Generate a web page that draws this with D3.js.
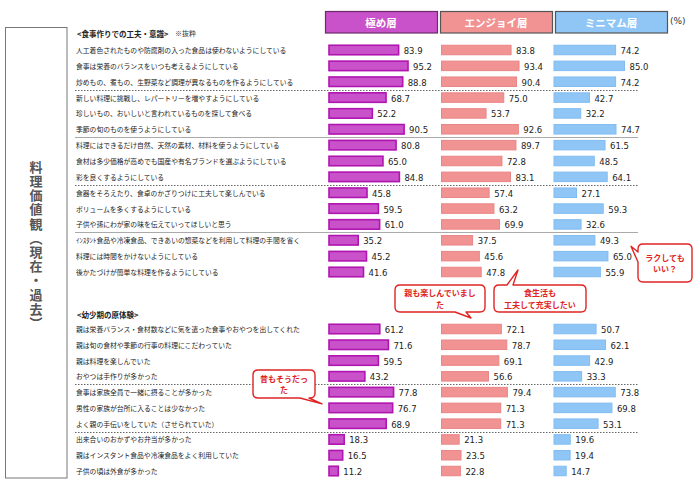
<!DOCTYPE html>
<html><head><meta charset="utf-8">
<script src="https://cdn.jsdelivr.net/npm/d3@7"></script>
<style>
html,body{margin:0;padding:0;background:#fff;}
svg{display:block;}
text{font-family:"Noto Sans CJK JP","Noto Sans",sans-serif;}
</style></head>
<body>
<svg id="chart" width="700" height="482"></svg>
<script>
// ---- data ----
const seriesNames = ["極め層", "エンジョイ層", "ミニマム層"];
const sectionTitles = ["<食事作りでの工夫・意識>", "<幼少期の原体験>"];
const sectionNote = "※抜粋";
const unitLabel = "(%)";
const sideTitle = "料理価値観（現在・過去）";

const foodLabels = [
  "人工着色されたものや防腐剤の入った食品は使わないようにしている",
  "食事は栄養のバランスをいつも考えるようにしている",
  "炒めもの、煮もの、生野菜など調理が異なるものを作るようにしている",
  "新しい料理に挑戦し、レパートリーを増やすようにしている",
  "珍しいもの、おいしいと言われているものを探して食べる",
  "季節の旬のものを使うようにしている",
  "料理にはできるだけ自然、天然の素材、材料を使うようにしている",
  "食材は多少価格が高めでも国産や有名ブランドを選ぶようにしている",
  "彩を良くするようにしている",
  "食器をそろえたり、食卓のかざりつけに工夫して楽しんでいる",
  "ボリュームを多くするようにしている",
  "子供や孫にわが家の味を伝えていってほしいと思う",
  "ｲﾝｽﾀﾝﾄ食品や冷凍食品、できあいの惣菜などを利用して料理の手間を省く",
  "料理には時間をかけないようにしている",
  "後かたづけが簡単な料理を作るようにしている"
];
const foodKiwame  = [83.9, 95.2, 88.8, 68.7, 52.2, 90.5, 80.8, 65.0, 84.8, 45.8, 59.5, 61.0, 35.2, 45.2, 41.6];
const foodEnjoy   = [83.8, 93.4, 90.4, 75.0, 53.7, 92.6, 89.7, 72.8, 83.1, 57.4, 63.2, 69.9, 37.5, 45.6, 47.8];
const foodMinimum = [74.2, 85.0, 74.2, 42.7, 32.2, 74.7, 61.5, 48.5, 64.1, 27.1, 59.3, 32.6, 49.3, 65.0, 55.9];
const foodBreaks = [{after: 2, dotted: true}, {after: 5, dotted: false}, {after: 8, dotted: true}, {after: 11, dotted: false}];

const childLabels = [
  "親は栄養バランス・食材数などに気を遣った食事やおやつを出してくれた",
  "親は旬の食材や季節の行事の料理にこだわっていた",
  "親は料理を楽しんでいた",
  "おやつは手作りが多かった",
  "食事は家族全員で一緒に摂ることが多かった",
  "男性の家族が台所に入ることは少なかった",
  "よく親の手伝いをしていた（させられていた）",
  "出来合いのおかずやお弁当が多かった",
  "親はインスタント食品や冷凍食品をよく利用していた",
  "子供の頃は外食が多かった"
];
const childKiwame  = [61.2, 71.6, 59.5, 43.2, 77.8, 76.7, 68.9, 18.3, 16.5, 11.2];
const childEnjoy   = [72.1, 78.7, 69.1, 56.6, 79.4, 71.3, 71.3, 21.3, 23.5, 22.8];
const childMinimum = [50.7, 62.1, 42.9, 33.3, 73.8, 69.8, 53.1, 19.6, 19.4, 14.7];
const childBreaks = [{after: 3, dotted: true}, {after: 6, dotted: true}];

const callouts = [
  {lines: ["ラクしても", "いい？"]},
  {lines: ["親も楽しんでいまし", "た"]},
  {lines: ["食生活も", "工夫して充実したい"]},
  {lines: ["昔もそうだっ", "た"]}
];

// ---- layout ----
const svg = d3.select("#chart");
const fills   = ["#c951c9", "#f19393", "#90c6f5"];
const strokes = ["#b015b0", "#ea8585", "#80bcf1"];
const panelX0 = [329, 441.5, 554];
const barMax = 83;
const xScales = panelX0.map(x0 => d3.scaleLinear().domain([0, 100]).range([x0, x0 + barMax]));
const barH = 9.5;
const labelX = 76;
const lineX1 = 75, lineX2 = 638;

// left box + vertical title
svg.append("rect").attr("x", 5.5).attr("y", 27.5).attr("width", 61.5).attr("height", 450.5)
  .attr("fill", "none").attr("stroke", "#777").attr("stroke-width", 1);
svg.append("text").attr("x", 36).attr("y", 245.5)
  .style("writing-mode", "vertical-rl")
  .attr("text-anchor", "middle")
  .attr("font-size", 13).attr("font-weight", "bold").attr("fill", "#555")
  .attr("letter-spacing", 1.2)
  .text(sideTitle);

// header boxes
const headerW = 112;
const hdr = svg.append("g");
seriesNames.forEach((name, i) => {
  const x = [325, 440, 555][i];
  hdr.append("rect").attr("x", x + 0.5).attr("y", 11.5).attr("width", headerW).attr("height", 21.5)
    .attr("fill", fills[i]).attr("stroke", i === 0 ? "#6b2a6b" : "#555").attr("stroke-width", 1.2);
  hdr.append("text").attr("x", x + headerW / 2).attr("y", 22.5)
    .attr("text-anchor", "middle").attr("dominant-baseline", "central")
    .attr("font-size", 10.5).attr("font-weight", "bold").attr("fill", "#fff").text(name);
});
svg.append("text").attr("x", 670).attr("y", 21).attr("dominant-baseline", "central")
  .attr("font-size", 9).attr("fill", "#333")
  .style("font-family", "'DejaVu Sans',sans-serif").text(unitLabel);

function drawSection(labels, seriesVals, breaks, y0, y1, title, titleYpos, note) {
  const y = d3.scaleLinear().domain([0, labels.length - 1]).range([y0, y1]);
  const g = svg.append("g");
  g.append("text").attr("x", labelX + 1).attr("y", titleYpos).attr("dominant-baseline", "central")
    .attr("font-size", 7.5).attr("font-weight", "bold").attr("fill", "#222").text(title);
  if (note) {
    g.append("text").attr("x", 175).attr("y", titleYpos).attr("dominant-baseline", "central")
      .attr("font-size", 7).attr("fill", "#333").text(note);
  }
  g.selectAll("text.lbl").data(labels).join("text").attr("class", "lbl")
    .attr("x", labelX).attr("y", (d, i) => y(i)).attr("dominant-baseline", "central")
    .attr("font-size", 6.8).attr("fill", "#222").text(d => d);
  const step = (y1 - y0) / (labels.length - 1);
  breaks.forEach(b => {
    const ly = Math.round(y(b.after) + step / 2) + 0.5;
    g.append("line").attr("x1", lineX1).attr("x2", lineX2).attr("y1", ly).attr("y2", ly)
      .attr("stroke", b.dotted ? "#666" : "#aaa").attr("stroke-width", 1)
      .attr("stroke-dasharray", b.dotted ? "1.5,1.5" : null);
  });
  seriesVals.forEach((vals, s) => {
    const xs = xScales[s];
    g.selectAll("rect.b" + s).data(vals).join("rect").attr("class", "b" + s)
      .attr("x", xs(0)).attr("y", (d, i) => y(i) - barH / 2)
      .attr("width", d => xs(d) - xs(0)).attr("height", barH)
      .attr("fill", fills[s]).attr("stroke", strokes[s]).attr("stroke-width", s === 0 ? 1.6 : 1);
    g.selectAll("text.v" + s).data(vals).join("text").attr("class", "v" + s)
      .attr("x", d => xs(d) + 5).attr("y", (d, i) => y(i) + 1).attr("dominant-baseline", "central")
      .attr("font-size", 8.5).attr("fill", "#222")
      .style("font-family", "'DejaVu Sans',sans-serif")
      .text(d => d.toFixed(1));
  });
  return y;
}

const yFood = drawSection(foodLabels, [foodKiwame, foodEnjoy, foodMinimum], foodBreaks, 50, 272,
  sectionTitles[0], 33, sectionNote);
const yChild = drawSection(childLabels, [childKiwame, childEnjoy, childMinimum], childBreaks, 329, 471,
  sectionTitles[1], 314, null);

// callouts (speech bubbles)
function bubble(x, yTop, w, h, tail, lines) {
  const r = 5, red = "#e02424";
  const x2 = x + w, y2 = yTop + h;
  let p = `M${x + r},${yTop}`;
  if (tail.side === "top") p += `L${tail.a},${yTop}L${tail.tx},${tail.ty}L${tail.b},${yTop}`;
  p += `L${x2 - r},${yTop}Q${x2},${yTop} ${x2},${yTop + r}`;
  p += `L${x2},${y2 - r}Q${x2},${y2} ${x2 - r},${y2}`;
  if (tail.side === "bottom") p += `L${tail.b},${y2}L${tail.tx},${tail.ty}L${tail.a},${y2}`;
  p += `L${x + r},${y2}Q${x},${y2} ${x},${y2 - r}`;
  if (tail.side === "left") p += `L${x},${tail.b}L${tail.tx},${tail.ty}L${x},${tail.a}`;
  p += `L${x},${yTop + r}Q${x},${yTop} ${x + r},${yTop}Z`;
  const g = svg.append("g");
  g.append("path").attr("d", p).attr("fill", "#fff").attr("stroke", red).attr("stroke-width", 1.4)
    .attr("stroke-linejoin", "round");
  const lh = 11.5;
  const cy = yTop + h / 2 - (lines.length - 1) * lh / 2;
  g.selectAll("text").data(lines).join("text")
    .attr("x", x + w / 2).attr("y", (d, i) => cy + i * lh).attr("text-anchor", "middle")
    .attr("dominant-baseline", "central").attr("font-size", 8).attr("font-weight", "bold")
    .attr("fill", red).text(d => d);
}

bubble(638, 244, 54, 38, {side: "left", a: 252, b: 262, tx: 631, ty: yFood(12) + 6}, callouts[0].lines);
bubble(395, 285, 90, 27, {side: "bottom", a: 455, b: 466, tx: 471, ty: yChild(0) - 11}, callouts[1].lines);
bubble(494, 285, 92, 27, {side: "top", a: 507, b: 513, tx: 518, ty: yFood(14) - 2}, callouts[2].lines);
bubble(253, 370, 62, 28, {side: "bottom", a: 300, b: 309, tx: 322, ty: yChild(5) - 4}, callouts[3].lines);
</script>
</body></html>
